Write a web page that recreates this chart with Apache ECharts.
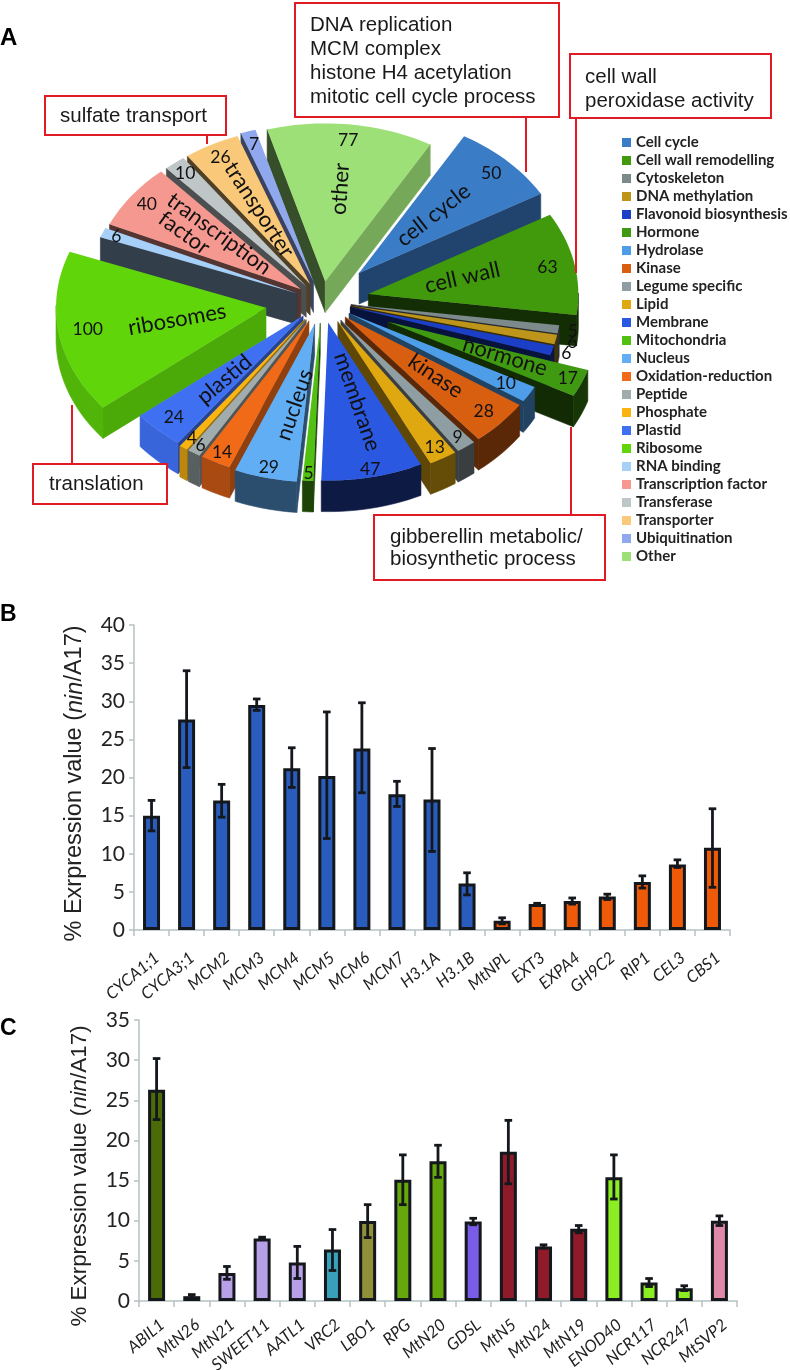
<!DOCTYPE html>
<html>
<head>
<meta charset="utf-8">
<style>html,body{margin:0;padding:0;background:#fff}#c{width:790px;height:1370px}</style>
<script src="https://cdn.jsdelivr.net/npm/echarts@6/dist/echarts.min.js"></script>
</head>
<body>
<div id="c"></div>
<script>
// ---------- Panel A data ----------
const sliceNames = ['Cell cycle','Cell wall remodelling','Cytoskeleton','DNA methylation','Flavonoid biosynthesis','Hormone','Hydrolase','Kinase','Legume specific','Lipid','Membrane','Mitochondria','Nucleus','Oxidation-reduction','Peptide','Phosphate','Plastid','Ribosome','RNA binding','Transcription factor','Transferase','Transporter','Ubiquitination','Other'];
const sliceValues = [50,63,5,6,6,17,10,28,9,13,47,5,29,14,6,4,24,100,6,40,10,26,7,77];
const sliceColors = ['#3a7cc6','#409a0c','#7d8a8c','#bd951a','#1c3fc8','#3f9a12','#4e9de8','#d95f10','#8f9ea2','#e0a810','#2a58e0','#52c010','#62aef5','#f06a18','#a0acae','#f9b412','#3f70f2','#5fd50a','#a6d0f8','#f49890','#bfc6c8','#f9c878','#8fa8ee','#9de077'];
const sliceExplode = [.25,.225,.14,.14,.14,.34,.15,.15,.15,.15,.14,.14,.15,.14,.14,.14,.13,.27,.13,.125,.12,.12,.13,.125];
const shadeArc = [.55,.3,.35,.35,.35,.35,.42,.42,.4,.45,.3,.35,.45,.7,.55,.75,.9,.85,.35,.35,.4,.4,.4,.75];
const shadeStart = [.55,.3,.35,.35,.35,.35,.42,.42,.4,.45,.3,.35,.45,.6,.5,.6,.6,.8,.3,.35,.4,.32,.4,.35];
const shadeEnd = [.55,.3,.3,.3,.3,.28,.42,.42,.4,.42,.3,.35,.45,.7,.55,.75,.7,.8,.35,.35,.4,.4,.4,.75];
const valueLabelRadius = [.89,.87,1.07,1.08,1.07,.93,.87,.89,.93,.92,.95,.95,.93,.93,.94,.93,.89,.86,.93,.91,.92,.91,.91,.9];
const titleSlices = [0,1,5,7,10,12,16,17,19,19,21,23];
const titleTexts = ['cell cycle','cell wall','hormone','kinase','membrane','nucleus','plastid','ribosomes','transcription','factor','transporter','other'];
const titleAngles = [44,77,111.5,131,164.6,190.5,223,260,312,302.6,332.7,7];
const titleRadii = [.51,.46,.6,.57,.52,.52,.55,.43,.524,.66,.53,.59];
const titleRotations = [38,13,-17,-34,-71,71,40,10,-36,-36,-57,86];
const pieStartAngle = 30;
const pieDepth = 31;

// ---------- Panel B data ----------
const genesB = ['CYCA1;1','CYCA3;1','MCM2','MCM3','MCM4','MCM5','MCM6','MCM7','H3.1A','H3.1B','MtNPL','EXT3','EXPA4','GH9C2','RIP1','CEL3','CBS1'];
const valuesB = [15,27.6,17,29.5,21.2,20.2,23.8,17.8,17.1,6.1,1.2,3.4,3.8,4.4,6.3,8.6,10.8];
const lowB = [13,21.3,14.8,28.8,18.7,12,18,16.2,10.3,4.6,.8,3.3,3.4,4,5.5,8.2,5.6];
const highB = [17,34,19.1,30.3,23.9,28.6,29.8,19.5,23.8,7.5,1.6,3.5,4.2,4.7,7.1,9.2,15.9];
const colorsB = ['#2a5cbe','#2a5cbe','#2a5cbe','#2a5cbe','#2a5cbe','#2a5cbe','#2a5cbe','#2a5cbe','#2a5cbe','#2a5cbe','#ee5a08','#ee5a08','#ee5a08','#ee5a08','#ee5a08','#ee5a08','#ee5a08'];

// ---------- Panel C data ----------
const genesC = ['ABIL1','MtN26','MtN21','SWEET11','AATL1','VRC2','LBO1','RPG','MtN20','GDSL','MtN5','MtN24','MtN19','ENOD40','NCR117','NCR247','MtSVP2'];
const valuesC = [26.3,.6,3.5,7.8,4.8,6.4,9.95,15.1,17.4,9.9,18.6,6.8,9,15.4,2.3,1.6,10];
const lowC = [22.6,.4,2.7,7.7,2.8,3.8,7.9,12,15.4,9.5,14.6,6.6,8.5,12.7,1.8,1.3,9.4];
const highC = [30.2,.8,4.3,7.95,6.8,8.9,12,18.2,19.4,10.3,22.5,7,9.4,18.2,2.8,1.9,10.6];
const colorsC = ['#4a6b08','#b8a0e8','#b8a0e8','#b8a0e8','#b8a0e8','#38a0b8','#8f9038','#66a80c','#66a80c','#7a5ce8','#8e1a2a','#8e1a2a','#8e1a2a','#8aee22','#8aee22','#8aee22','#e088a8'];

const axisGrey = '#b5c2c2', ink = '#14181c', red = '#e01b24';
const D2R = Math.PI / 180;
const total = sliceValues.reduce((a, b) => a + b, 0);
const cumBefore = sliceValues.map((_, i) => sliceValues.slice(0, i).reduce((a, b) => a + b, 0));
const angleFrom = i => pieStartAngle + cumBefore[i] / total * 360;
const angleTo = i => pieStartAngle + (cumBefore[i] + sliceValues[i]) / total * 360;
const angleMid = i => (angleFrom(i) + angleTo(i)) / 2;

function shade(hex, k) {
  const n = parseInt(hex.slice(1), 16);
  const f = c => Math.round(c * k);
  return 'rgb(' + f(n >> 16 & 255) + ',' + f(n >> 8 & 255) + ',' + f(n & 255) + ')';
}
function unitPoint(i, cw, r) {
  const m = angleMid(i) * D2R, e = sliceExplode[i], a = cw * D2R;
  return [e * Math.sin(m) + r * Math.sin(a), e * Math.cos(m) + r * Math.cos(a)];
}
function wall(run, color) {
  const lower = run.slice().reverse().map(p => [p[0], p[1] + pieDepth]);
  return { type: 'polygon', shape: { points: run.concat(lower) }, style: { fill: color, stroke: color, lineWidth: 0.6 } };
}
function renderSlice(i) {
  return function (params, api) {
    const a0 = angleFrom(i), a1 = angleTo(i);
    const steps = Math.max(2, Math.ceil((a1 - a0) / 2));
    const apex = api.coord(unitPoint(i, 0, 0));
    const arc = [];
    for (let s = 0; s <= steps; s++) arc.push(api.coord(unitPoint(i, a0 + (a1 - a0) * s / steps, 1)));
    const c = sliceColors[i], kids = [];
    if (arc[0][0] < apex[0]) kids.push(wall([apex, arc[0]], shade(c, shadeStart[i])));
    if (arc[steps][0] > apex[0]) kids.push(wall([arc[steps], apex], shade(c, shadeEnd[i])));
    let run = [];
    for (let s = 0; s < steps; s++) {
      if (arc[s + 1][0] < arc[s][0]) {
        if (!run.length) run.push(arc[s]);
        run.push(arc[s + 1]);
      } else if (run.length) { kids.push(wall(run, shade(c, shadeArc[i]))); run = []; }
    }
    if (run.length) kids.push(wall(run, shade(c, shadeArc[i])));
    kids.push({ type: 'polygon', shape: { points: [apex].concat(arc) }, style: { fill: c } });
    return { type: 'group', children: kids };
  };
}
const frontOrder = sliceNames.map((_, i) => i).sort((a, b) => Math.cos(angleMid(b) * D2R) - Math.cos(angleMid(a) * D2R));
const sliceSeries = frontOrder.map((i, k) => ({
  type: 'custom', name: sliceNames[i], xAxisIndex: 2, yAxisIndex: 2, z: 2, silent: true,
  itemStyle: { color: sliceColors[i] }, clip: false,
  data: [[0, 0, sliceValues[i]]], encode: { x: 0, y: 1 }, renderItem: renderSlice(i)
}));
const valueLabelSeries = {
  type: 'custom', xAxisIndex: 2, yAxisIndex: 2, z: 5, silent: true, clip: false,
  data: sliceValues.map(v => [0, 0, v]), encode: { x: 0, y: 1 },
  renderItem(params, api) {
    const i = params.dataIndex, p = api.coord(unitPoint(i, angleMid(i), valueLabelRadius[i]));
    return { type: 'text', x: p[0], y: p[1], style: { text: String(api.value(2)), align: 'center', verticalAlign: 'middle', fontFamily: 'Lato', fontSize: 17.5, fill: '#111' } };
  }
};
const titleLabelSeries = {
  type: 'custom', xAxisIndex: 2, yAxisIndex: 2, z: 5, silent: true, clip: false,
  data: titleTexts.map(() => [0, 0]), encode: { x: 0, y: 1 },
  renderItem(params, api) {
    const k = params.dataIndex, p = api.coord(unitPoint(titleSlices[k], titleAngles[k], titleRadii[k]));
    return { type: 'text', x: p[0], y: p[1], rotation: titleRotations[k] * D2R,
      style: { text: titleTexts[k], align: 'center', verticalAlign: 'middle', fontFamily: 'Lato', fontSize: 22, fill: '#111' } };
  }
};

function barSeries(idx, names, vals, cols) {
  return { type: 'bar', xAxisIndex: idx, yAxisIndex: idx, barWidth: 17, silent: true,
    data: vals.map((v, i) => ({ value: v, itemStyle: { color: cols[i], borderColor: ink, borderWidth: 3 } })) };
}
function errorSeries(idx, names, lo, hi) {
  return { type: 'custom', xAxisIndex: idx, yAxisIndex: idx, z: 4, silent: true,
    data: names.map((n, i) => [n, lo[i], hi[i]]), encode: { x: 0, y: [1, 2] },
    renderItem(params, api) {
      const a = api.coord([api.value(0), api.value(1)]), b = api.coord([api.value(0), api.value(2)]);
      const st = { stroke: ink, lineWidth: 2.8 };
      return { type: 'group', children: [
        { type: 'line', shape: { x1: a[0], y1: a[1], x2: b[0], y2: b[1] }, style: st },
        { type: 'line', shape: { x1: a[0] - 3.8, y1: a[1], x2: a[0] + 3.8, y2: a[1] }, style: st },
        { type: 'line', shape: { x1: b[0] - 3.8, y1: b[1], x2: b[0] + 3.8, y2: b[1] }, style: st }
      ] };
    } };
}
function catAxis(idx, names, margin) {
  return { type: 'category', gridIndex: idx, data: names, boundaryGap: true,
    axisLine: { show: true, lineStyle: { color: axisGrey, width: 1.5 } },
    axisTick: { show: true, length: 6, lineStyle: { color: axisGrey, width: 1.5 } },
    axisLabel: { rotate: 40, interval: 0, margin: margin, verticalAlign: 'top', fontFamily: 'Lato', fontStyle: 'italic', fontSize: 16.5, color: '#222' } };
}
function valAxis(idx, max, gap, pad, size) {
  return { type: 'value', gridIndex: idx, min: 0, max: max, interval: 5,
    name: '{a|% Exrpression value (}{b|nin}{a|/A17)}', nameLocation: 'middle', nameRotate: 90, nameGap: gap, nameMoveOverlap: false,
    nameTextStyle: { padding: [0, pad, 0, 0], rich: {
      a: { fontFamily: 'Liberation Sans', fontSize: size, color: '#222' },
      b: { fontFamily: 'Liberation Sans', fontSize: size, fontStyle: 'italic', color: '#222' } } },
    splitLine: { show: false },
    axisLine: { show: true, lineStyle: { color: axisGrey, width: 1.5 } },
    axisTick: { show: true, length: 5, lineStyle: { color: axisGrey, width: 1.5 } },
    axisLabel: { margin: 9, fontFamily: 'Lato', fontSize: 21, color: '#222' } };
}
function callout(x, y, w, h, text, tx, ty, lh) {
  return [
    { type: 'rect', z: 10, shape: { x, y, width: w, height: h }, style: { fill: '#fff', stroke: red, lineWidth: 2 } },
    { type: 'text', z: 11, x: tx, y: ty, style: { text, fontFamily: 'Liberation Sans', fontSize: 20.5, lineHeight: lh, fill: '#1a1a1a', verticalAlign: 'top' } }
  ];
}
function leader(x1, y1, x2, y2) {
  return { type: 'line', z: 9, shape: { x1, y1, x2, y2 }, style: { stroke: red, lineWidth: 2 } };
}
function panelLetter(t, x, y, size) {
  return { type: 'text', z: 11, x, y, style: { text: t, fontFamily: 'Liberation Sans', fontWeight: 'bold', fontSize: size, fill: '#000', verticalAlign: 'middle' } };
}

const chart = echarts.init(document.getElementById('c'), null, { renderer: 'canvas' });
chart.setOption({
  animation: false,
  backgroundColor: '#fff',
  legend: {
    orient: 'vertical', left: 622, top: 135, padding: 0, itemWidth: 9, itemHeight: 9, itemGap: 3, selectedMode: false, icon: 'rect',
    data: sliceNames,
    textStyle: { fontFamily: 'Lato', fontWeight: 'bold', fontSize: 15, lineHeight: 14, color: '#222' }
  },
  grid: [
    { left: 134, width: 596, top: 625, height: 305, outerBoundsMode: 'none' },
    { left: 139, width: 598, top: 1020, height: 281, outerBoundsMode: 'none' },
    { left: 112, width: 420, top: 143, height: 316, outerBoundsMode: 'none' }
  ],
  xAxis: [ catAxis(0, genesB, 19), catAxis(1, genesC, 15),
    { type: 'value', gridIndex: 2, min: -1, max: 1, show: false } ],
  yAxis: [ valAxis(0, 40, 47, 12, 23.5), valAxis(1, 35, 48, 31, 22.4),
    { type: 'value', gridIndex: 2, min: -1, max: 1, show: false } ],
  series: sliceSeries.concat([
    valueLabelSeries, titleLabelSeries,
    barSeries(0, genesB, valuesB, colorsB), errorSeries(0, genesB, lowB, highB),
    barSeries(1, genesC, valuesC, colorsC), errorSeries(1, genesC, lowC, highC)
  ]),
  graphic: { elements: [].concat(
    callout(45, 96, 181, 39, 'sulfate transport', 60, 105, 22),
    callout(295, 3, 264, 114, 'DNA replication\nMCM complex\nhistone H4 acetylation\nmitotic cell cycle process', 310, 13, 24),
    callout(570, 54, 201, 64, 'cell wall\nperoxidase activity', 585, 66, 23.5),
    callout(33, 464, 134, 40, 'translation', 49, 473, 22),
    callout(374, 515, 231, 65, 'gibberellin metabolic/\nbiosynthetic process', 390, 526, 22.5),
    [ leader(207, 129, 207, 144), leader(526, 118, 526, 172), leader(576, 118, 576, 273), leader(72, 405, 72, 464), leader(571, 427, 571, 515),
      panelLetter('A', 0, 38, 24), panelLetter('B', 0, 615, 23), panelLetter('C', 0, 1029, 23) ]
  ) }
});
</script>
</body>
</html>
